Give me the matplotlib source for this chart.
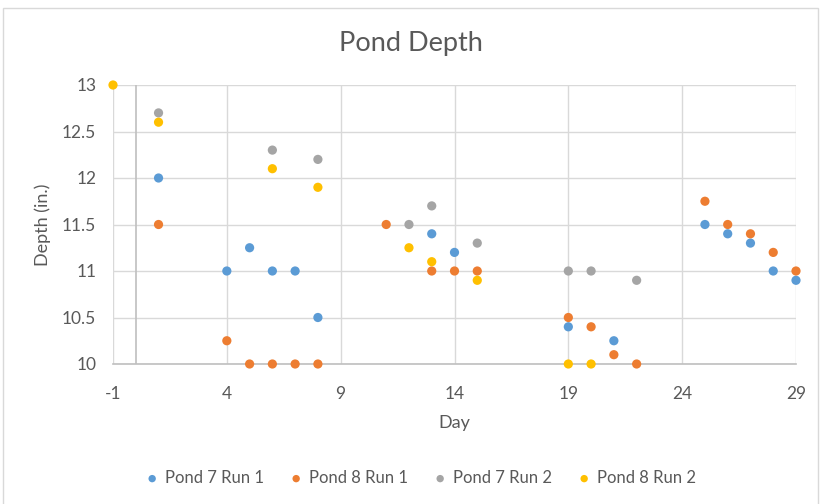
import matplotlib.pyplot as plt
from matplotlib.patches import Rectangle
from matplotlib.ticker import FuncFormatter

plt.rcParams['font.family'] = ['Lato', 'DejaVu Sans']
plt.rcParams['axes.unicode_minus'] = False

# Pond 7 Run 1
p7r1_day = [1, 4, 5, 6, 7, 8, 13, 14, 19, 21, 25, 26, 27, 28, 29]
p7r1_depth = [12, 11, 11.25, 11, 11, 10.5, 11.4, 11.2, 10.4, 10.25, 11.5, 11.4, 11.3, 11, 10.9]

# Pond 8 Run 1
p8r1_day = [1, 4, 5, 6, 7, 8, 11, 13, 14, 15, 19, 20, 21, 22, 25, 26, 27, 28, 29]
p8r1_depth = [11.5, 10.25, 10, 10, 10, 10, 11.5, 11, 11, 11, 10.5, 10.4, 10.1, 10,
              11.75, 11.5, 11.4, 11.2, 11]

# Pond 7 Run 2
p7r2_day = [1, 6, 8, 12, 13, 15, 19, 20, 22]
p7r2_depth = [12.7, 12.3, 12.2, 11.5, 11.7, 11.3, 11, 11, 10.9]

# Pond 8 Run 2
p8r2_day = [-1, 1, 6, 8, 12, 13, 15, 19, 20]
p8r2_depth = [13, 12.6, 12.1, 11.9, 11.25, 11.1, 10.9, 10, 10]

series = [
    ('Pond 7 Run 1', p7r1_day, p7r1_depth, '#5B9BD5'),
    ('Pond 8 Run 1', p8r1_day, p8r1_depth, '#ED7D31'),
    ('Pond 7 Run 2', p7r2_day, p7r2_depth, '#A5A5A5'),
    ('Pond 8 Run 2', p8r2_day, p8r2_depth, '#FFC000'),
]

fig = plt.figure(figsize=(8.21, 5.04), dpi=100)
ax = fig.add_axes([113 / 821, 1 - 364 / 504, (796 - 113) / 821, (364 - 85) / 504])

# chart border
fig.patches.append(Rectangle((3 / 821, -0.01), 815 / 821, 1 - 8 / 504 + 0.01,
                             transform=fig.transFigure, fill=False,
                             edgecolor='#d9d9d9', lw=1))

for name, x, y, c in series:
    ax.scatter(x, y, s=44, color=c, label=name, zorder=3, clip_on=False,
               edgecolors='none')

ax.set_xlim(-1, 29)
ax.set_ylim(10, 13)
ax.set_xticks([-1, 4, 9, 14, 19, 24, 29])
ax.set_yticks([10, 10.5, 11, 11.5, 12, 12.5, 13])
ax.yaxis.set_major_formatter(FuncFormatter(lambda v, p: f'{v:g}'))

ax.grid(True, color='#d9d9d9', lw=1)
ax.set_axisbelow(True)
for s in ['top', 'right', 'left']:
    ax.spines[s].set_visible(False)
ax.spines['bottom'].set_color('#bfbfbf')
ax.spines['bottom'].set_linewidth(1.2)
ax.axvline(0, color='#bfbfbf', lw=1.2, zorder=2)

ax.tick_params(length=0, labelsize=12.5, colors='#595959')
ax.tick_params(axis='x', pad=16)
ax.tick_params(axis='y', pad=12)
ax.set_xlabel('Day', fontsize=13, color='#595959', labelpad=9)
ax.set_ylabel('Depth (in.)', fontsize=13, color='#595959', labelpad=8)

fig.text(0.5, 1 - 44 / 504, 'Pond Depth', ha='center', va='center',
         fontsize=19.5, color='#595959')

handles, labels = ax.get_legend_handles_labels()
fig.legend(handles, labels, loc='center', bbox_to_anchor=(421 / 821, 1 - 478 / 504),
           ncol=4, frameon=False, fontsize=12, markerscale=0.8, handlelength=0.7,
           handletextpad=0.4, columnspacing=1.6, labelcolor='#595959')

fig.savefig('out.png', dpi=100)
